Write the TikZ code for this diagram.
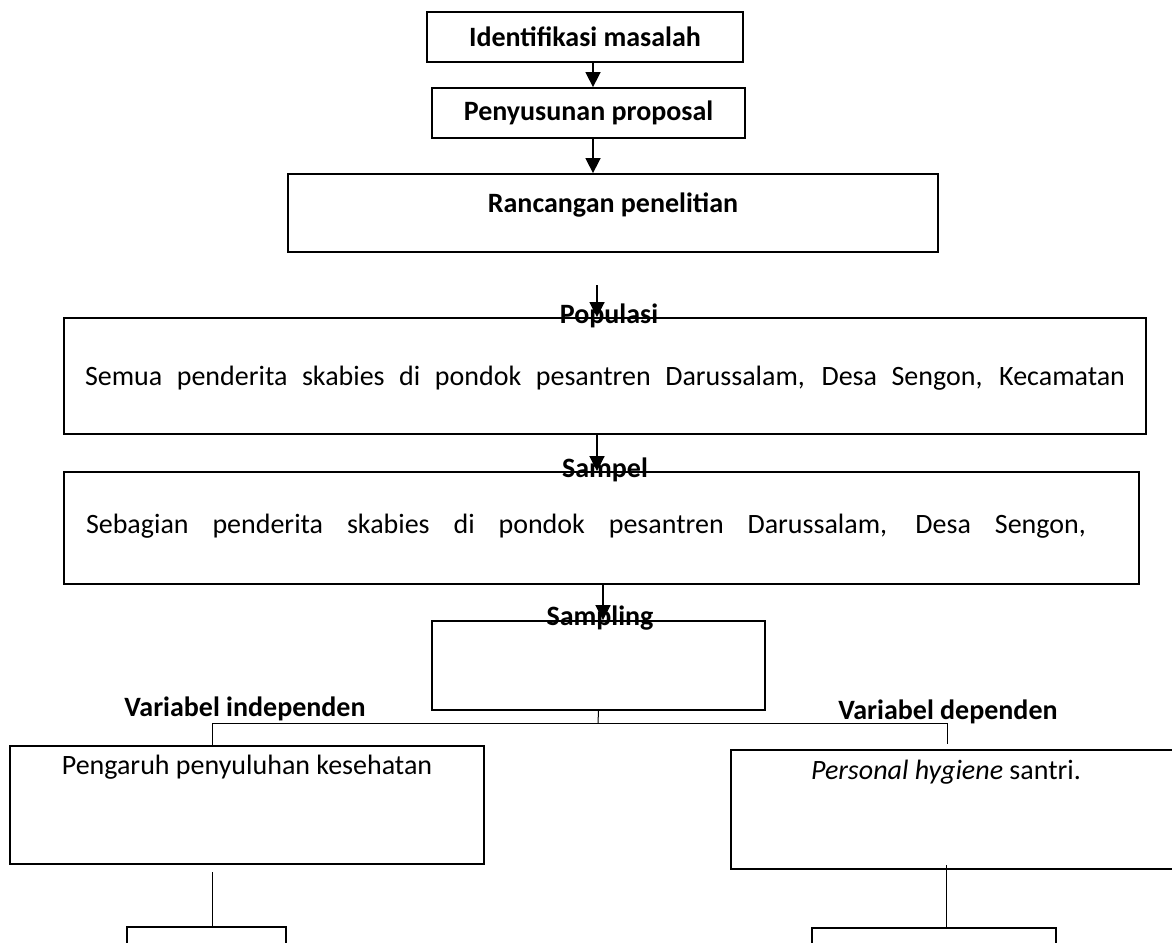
\documentclass[tikz,border=0pt]{standalone}
\usepackage{fontspec}
\setmainfont{Carlito}
\usetikzlibrary{positioning,fit,arrows.meta}

\begin{document}
\begin{tikzpicture}[x=0.5pt,y=-0.5pt,
    box/.style={draw,line width=0.9pt,inner sep=0pt},
    head/.style={font=\fontsize{14}{17}\selectfont\bfseries,inner sep=0pt},
    plain/.style={font=\fontsize{14}{17}\selectfont,inner sep=0pt},
    arr/.style={line width=0.8pt,-{Triangle[width=7.5pt,length=7.5pt]}},
    link/.style={line width=0.5pt}]
  \useasboundingbox (0,0) rectangle (1172,942);
  \clip (0,0) rectangle (1172,942);

  % alur penelitian
  \node[box,fit={(427,12) (743,62)}] (ident) {};
  \node[head] (identlbl) at (ident) {Identifikasi masalah};
  \node[box,fit={(432,88) (745,138)}] (prop) {};
  \node[head] (proplbl) at (prop) {Penyusunan proposal};
  \node[box,fit={(288,174) (938,252)}] (ranc) {};
  \node[head] (ranclbl) at (613,205) {Rancangan penelitian};

  \node[box,fit={(64,318) (1146,434)}] (pop) {};
  \node[head,anchor=base] (poplbl) at (609,323) {Populasi};
  \node[plain] (poptxt) at (605,378) {\makebox[520pt][s]{Semua penderita skabies di pondok pesantren Darussalam, Desa Sengon, Kecamatan}};

  \node[box,fit={(64,472) (1139,584)}] (samp) {};
  \node[head,anchor=base] (samplbl) at (605,477) {Sampel};
  \node[plain] (samptxt) at (586,526) {\makebox[500pt][s]{Sebagian penderita skabies di pondok pesantren Darussalam, Desa Sengon,}};

  \node[box,fit={(432,621) (765,710)}] (smpl) {};
  \node[head,anchor=base] (smpllbl) at (600,625) {Sampling};

  % variabel
  \node[head,anchor=base] (indeplbl) at (245,716) {Variabel independen};
  \node[head,anchor=base] (deplbl) at (948,719) {Variabel dependen};
  \node[box,fit={(10,746) (484,864)}] (indep) {};
  \node[plain,anchor=north] (indeptxt) at (247,755) {Pengaruh penyuluhan kesehatan};
  \node[box,fit={(731,750) (1200,869)}] (dep) {};
  \node[plain,anchor=north] (deptxt) at (946,760) {\textit{Personal hygiene} santri.};

  % kotak bawah, terpotong di tepi
  \node[box,fit={(127,927) (286,990)}] (indepsub) {};
  \node[box,fit={(812,928) (1056,990)}] (depsub) {};

  % panah
  \coordinate (colA) at (593,0);
  \draw[arr] (ident.south -| colA) -- (prop.north -| colA);
  \draw[arr] (prop.south -| colA) -- (ranc.north -| colA);
  \coordinate (popin) at (597,285);
  \draw[arr] (popin) -- (pop.north -| popin);
  \coordinate (colB) at (597,0);
  \draw[arr] (pop.south -| colB) -- (samp.north -| colB);
  \coordinate (colC) at (603,0);
  \draw[arr] (samp.south -| colC) -- (smpl.north -| colC);

  % garis cabang
  \coordinate (split) at (598,723);
  \coordinate (brL) at (212,723);
  \coordinate (brR) at (947,723);
  \coordinate (depin) at (947,744);
  \coordinate (indepout) at (212,872);
  \coordinate (depout) at (946,865);
  \draw[link] (smpl.south) -- (split);
  \draw[link] (brL) -- (brR);
  \draw[link] (brL) -- (indep.north -| brL);
  \draw[link] (brR) -- (depin);
  \draw[link] (indepout) -- (indepsub.north -| indepout);
  \draw[link] (depout) -- (depsub.north -| depout);
\end{tikzpicture}
\end{document}
